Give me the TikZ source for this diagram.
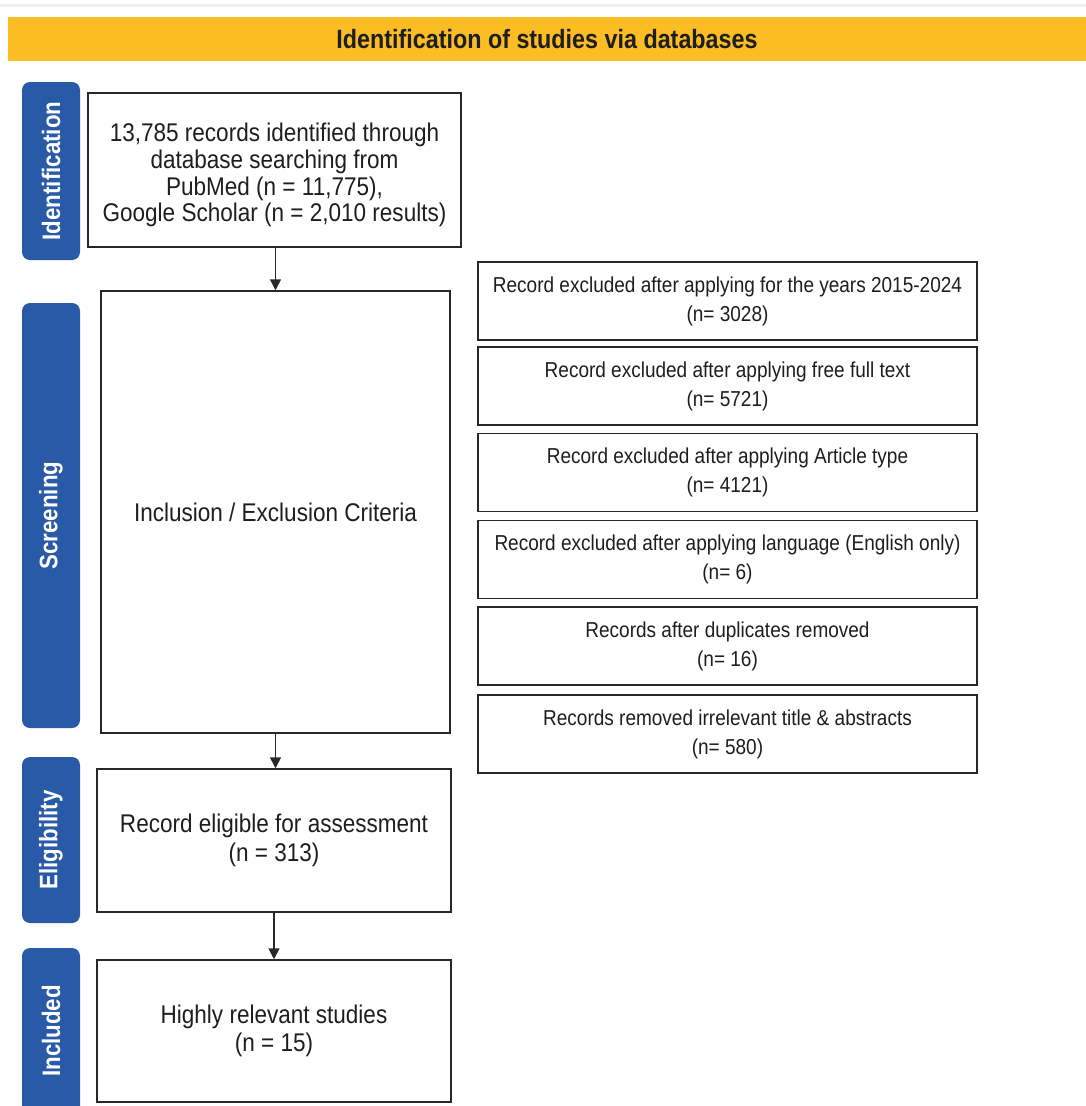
\documentclass[tikz,border=0pt]{standalone}
\usepackage{fontspec}
\setmainfont[FakeStretch=0.88]{Liberation Sans}
\usetikzlibrary{arrows.meta}
\definecolor{bannerY}{RGB}{251,188,36}
\definecolor{sideB}{RGB}{40,90,168}
\definecolor{lineK}{RGB}{40,40,40}
\definecolor{txtK}{RGB}{30,30,30}
\begin{document}
\begin{tikzpicture}[x=1pt,y=-1pt,
  box/.style={draw=lineK, line width=1.5pt, fill=white, align=center, inner sep=0pt,
    text=txtK, font=\fontsize{25.6}{28.5}\selectfont},
  rbox/.style={draw=lineK, line width=1.5pt, fill=white, align=center, inner sep=0pt,
    text=txtK, font=\fontsize{21.6}{29}\selectfont, minimum width=499pt, minimum height=78pt},
  sidebox/.style={fill=sideB, rounded corners=8pt, rotate=90, inner sep=0pt,
    minimum height=58pt, text=white, font=\bfseries\fontsize{25.3}{26}\selectfont},
  arr/.style={-{Triangle[length=11pt,width=11pt]}, line width=1.6pt, draw=lineK}]
\useasboundingbox (0,0) rectangle (1086,1106);
\clip (0,0) rectangle (1086,1106);
\fill[white] (0,0) rectangle (1086,1106);
% faint top rule
\draw[gray!12, line width=3pt] (0,5) -- (1086,5);
% banner
\node[fill=bannerY, minimum width=1078pt, minimum height=44pt, inner sep=0pt,
  text=txtK, font=\bfseries\fontsize{26.5}{27}\selectfont] (banner) at (547,39)
  {Identification of studies via databases};
% side labels
\node[sidebox, minimum width=178pt] (lid) at (51,171) {Identification};
\node[sidebox, minimum width=425pt] (lscr) at (51,515.5) {Screening};
\node[sidebox, minimum width=166pt] (lel) at (51,840) {Eligibility};
\node[sidebox, minimum width=166pt] (lin) at (51,1031) {Included};
% main boxes
\node[box, minimum width=373pt, minimum height=154pt] (id) at (274.5,170) {};
\node[align=center, text=txtK, font=\fontsize{25.6}{26.8}\selectfont, inner sep=0pt] (idt) at (274.5,175)
  {13,785 records identified through\\ database searching from\\ PubMed (n = 11,775),\\ Google Scholar (n = 2,010 results)};
\node[box, minimum width=349pt, minimum height=442pt] (scr) at (275.5,512)
  {Inclusion / Exclusion Criteria};
\node[box, minimum width=354pt, minimum height=143pt] (el) at (274,840.5)
  {Record eligible for assessment\\ (n = 313)};
\node[box, minimum width=354pt, minimum height=142pt] (inc) at (274,1031)
  {Highly relevant studies\\ (n = 15)};
% right boxes
\node[rbox] (r1) at (727.5,301) {Record excluded after applying for the years 2015-2024\\ (n= 3028)};
\node[rbox] (r2) at (727.5,386) {Record excluded after applying free full text\\ (n= 5721)};
\node[rbox] (r3) at (727.5,472.5) {Record excluded after applying Article type\\ (n= 4121)};
\node[rbox] (r4) at (727.5,559.5) {Record excluded after applying language (English only)\\ (n= 6)};
\node[rbox] (r5) at (727.5,646) {Records after duplicates removed\\ (n= 16)};
\node[rbox] (r6) at (727.5,734) {Records removed irrelevant title \& abstracts\\ (n= 580)};
% arrows
\draw[arr] (id.south -| scr.north) -- (scr.north);
\draw[arr] (scr.south) -- (scr.south |- el.north);
\draw[arr] (el.south) -- (inc.north);
\end{tikzpicture}
\end{document}
